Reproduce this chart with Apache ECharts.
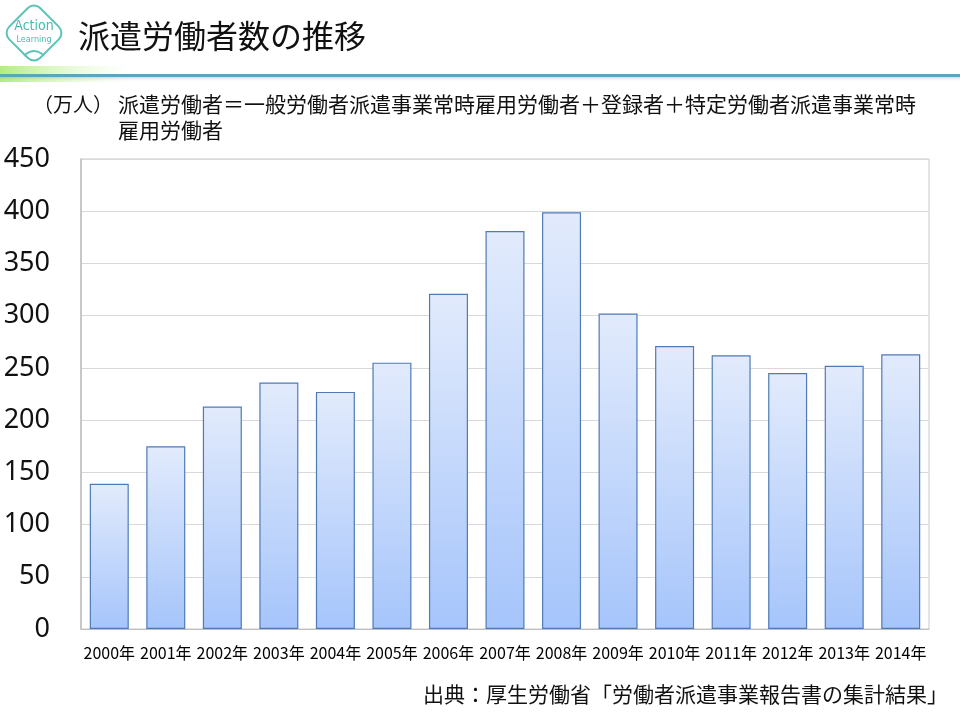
<!DOCTYPE html>
<html>
<head>
<meta charset="utf-8">
<script src="https://cdn.jsdelivr.net/npm/echarts@6/dist/echarts.min.js"></script>
<style>
html,body{margin:0;padding:0;background:#fff;}
#chart{width:960px;height:720px;}
</style>
</head>
<body>
<div id="chart"></div>
<script>
var categories = ['2000年','2001年','2002年','2003年','2004年','2005年','2006年','2007年','2008年','2009年','2010年','2011年','2012年','2013年','2014年'];
var workers = [139,175,213,236,227,255,321,381,399,302,271,262,245,252,263];
var yTicks = {min:0, max:450, interval:50};

var titleText = '派遣労働者数の推移';
var unitText = '（万人）';
var noteLine1 = '派遣労働者＝一般労働者派遣事業常時雇用労働者＋登録者＋特定労働者派遣事業常時';
var noteLine2 = '雇用労働者';
var sourceText = '出典：厚生労働省「労働者派遣事業報告書の集計結果」';

var jp = '"Noto Sans CJK JP", "Noto Sans", sans-serif';
var chart = echarts.init(document.getElementById('chart'), null, {renderer:'canvas'});
chart.setOption({
  backgroundColor:'#ffffff',
  animation:false,
  grid:{left:81, right:31, top:159, bottom:91, show:true, borderColor:'#c8c8c8', borderWidth:1, backgroundColor:'transparent'},
  xAxis:{
    type:'category', data:categories,
    axisLine:{show:true, lineStyle:{color:'#bfbfbf', width:1}},
    axisTick:{show:false},
    axisLabel:{color:'#000', fontSize:16, fontFamily:jp, margin:16, interval:0}
  },
  yAxis:{
    type:'value', min:yTicks.min, max:yTicks.max, interval:yTicks.interval,
    axisLine:{show:true, lineStyle:{color:'#bfbfbf', width:1.5}},
    axisTick:{show:false},
    splitLine:{lineStyle:{color:'#d9d9d9', width:1}},
    axisLabel:{color:'#111', fontSize:27, fontFamily:'"Noto Sans", sans-serif', margin:31}
  },
  series:[{
    type:'bar', data:workers, barCategoryGap:'31%',
    itemStyle:{
      color:new echarts.graphic.LinearGradient(0,0,0,1,[{offset:0,color:'#e2ebfc'},{offset:1,color:'#a6c5fb'}]),
      borderColor:'#4f7bb5', borderWidth:1.2
    }
  }],
  graphic:[
    // header gradient line
    {type:'rect', shape:{x:0,y:66,width:130,height:16}, style:{fill:new echarts.graphic.LinearGradient(0,0,1,0,[{offset:0,color:'rgba(170,235,110,0.9)'},{offset:1,color:'rgba(220,250,200,0)'}])}, z:1},
    {type:'rect', shape:{x:0,y:77,width:960,height:4}, style:{fill:new echarts.graphic.LinearGradient(0,0,0,1,[{offset:0,color:'rgba(150,150,150,0.35)'},{offset:1,color:'rgba(200,200,200,0)'}])}, z:1},
    {type:'rect', shape:{x:0,y:74,width:960,height:3}, style:{fill:'#5ba6b9'}, z:2},
    // logo
    {type:'rect', x:34, y:33, rotation:Math.PI/4, shape:{x:-22,y:-22,width:44,height:44,r:9}, style:{fill:'#fff', stroke:'#5cc4b6', lineWidth:2}, z:3},
    {type:'arc', shape:{cx:34, cy:63, r:12, startAngle:Math.PI*1.2, endAngle:Math.PI*1.8}, style:{stroke:'#5cc4b6', lineWidth:2, fill:null}, z:4},
    {type:'text', x:34, y:26, style:{text:'Action', fill:'#4bb9ae', font:'14px "DejaVu Sans Condensed", "Liberation Sans Narrow", sans-serif', textAlign:'center', textVerticalAlign:'middle'}, z:4},
    {type:'text', x:34, y:40, style:{text:'Learning', fill:'#4bb9ae', font:'9px "DejaVu Sans Condensed", sans-serif', textAlign:'center', textVerticalAlign:'middle'}, z:4},
    // title
    {type:'text', x:78, y:36, style:{text:titleText, fill:'#111', font:'32px '+jp, textVerticalAlign:'middle'}},
    // notes
    {type:'text', x:33, y:104, style:{text:unitText, fill:'#111', font:'20px '+jp, textVerticalAlign:'middle'}},
    {type:'text', x:118, y:104, style:{text:noteLine1, fill:'#111', font:'21px '+jp, textVerticalAlign:'middle'}},
    {type:'text', x:118, y:130, style:{text:noteLine2, fill:'#111', font:'21px '+jp, textVerticalAlign:'middle'}},
    // source
    {type:'text', x:948, y:694, style:{text:sourceText, fill:'#111', font:'21px '+jp, textAlign:'right', textVerticalAlign:'middle'}}
  ]
});
</script>
</body>
</html>
